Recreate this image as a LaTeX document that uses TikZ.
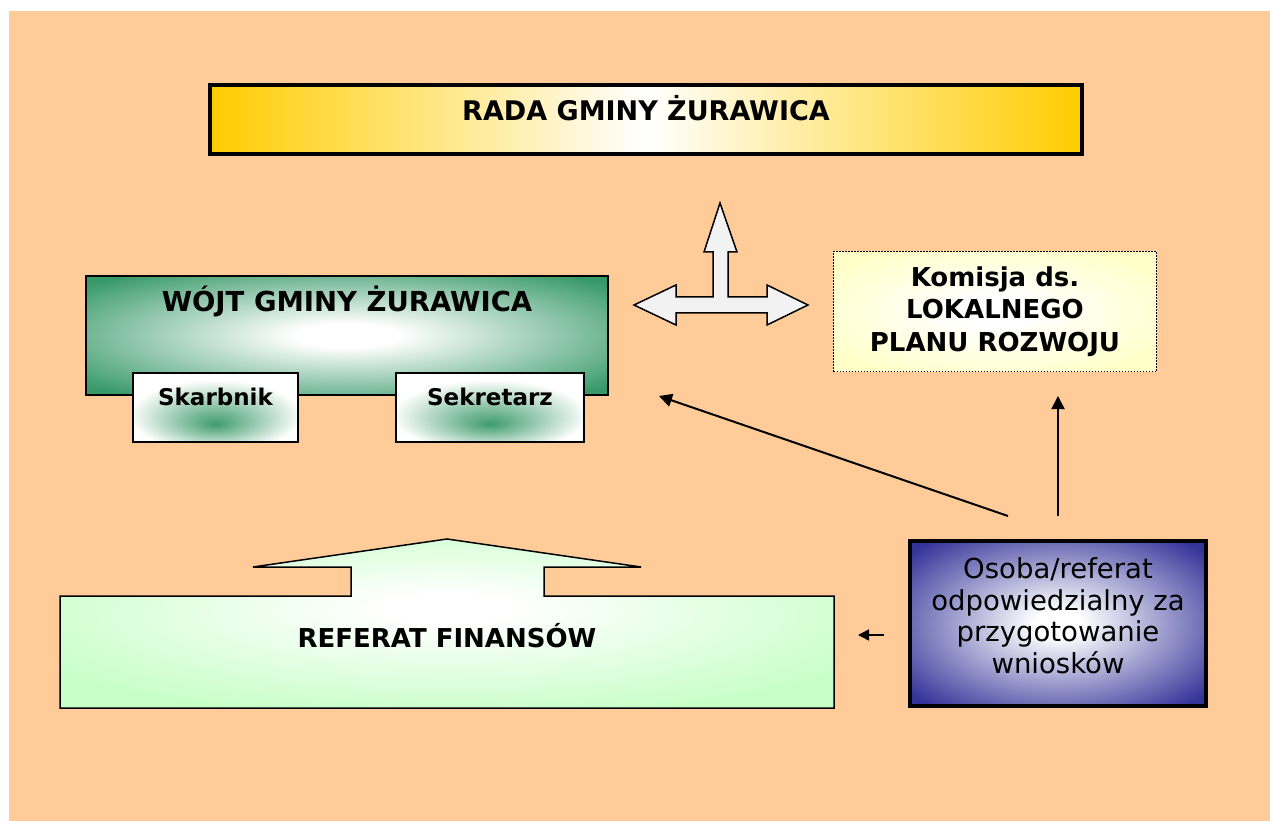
\documentclass[tikz,border=0pt]{standalone}
\usepackage{fontspec}
\setmainfont{DejaVu Sans}
\usetikzlibrary{arrows.meta}
\definecolor{bgorange}{HTML}{FFCC99}
\definecolor{goldc}{HTML}{FFCC00}
\definecolor{wgreen}{HTML}{379968}
\definecolor{subgreen}{HTML}{3F9C6C}
\definecolor{oblue}{HTML}{333399}
\definecolor{lgreen}{HTML}{C8FFC8}
\definecolor{lyellow}{HTML}{FFFFC8}
\definecolor{arrowgray}{HTML}{F2F2F2}
\pgfdeclareradialshading{wojtshade}{\pgfpoint{0bp}{0bp}}{color(0bp)=(white); color(5bp)=(white); color(33bp)=(wgreen); color(50bp)=(wgreen)}
\pgfdeclareradialshading{subshade}{\pgfpoint{0bp}{-12bp}}{color(0bp)=(subgreen); color(26bp)=(white); color(50bp)=(white)}
\pgfdeclareradialshading{komshade}{\pgfpoint{0bp}{0bp}}{color(0bp)=(white); color(6bp)=(white); color(30bp)=(lyellow); color(50bp)=(lyellow)}
\pgfdeclareradialshading{osobashade}{\pgfpoint{0bp}{0bp}}{color(0bp)=(white); color(4bp)=(white); color(33bp)=(oblue); color(50bp)=(oblue)}
\pgfdeclareradialshading{refshade}{\pgfpoint{0bp}{5bp}}{color(0bp)=(white); color(4bp)=(white); color(30bp)=(lgreen); color(50bp)=(lgreen)}
\begin{document}
\begin{tikzpicture}[x=1pt,y=-1pt,
  every node/.style={inner sep=0pt, outer sep=0pt},
  bigbox/.style={draw=black, rectangle, anchor=center},
  conn/.style={line width=2pt, -{Triangle[length=13pt,width=13pt]}},
  smallconn/.style={line width=1.6pt, -{Triangle[length=11pt,width=11pt]}},
]
\useasboundingbox (0,0) rectangle (1270,821);
\fill[bgorange] (9,11) rectangle (1271,822);

% Rada
\node[bigbox, line width=4pt, minimum width=872pt, minimum height=69pt,
  left color=goldc, right color=goldc, middle color=white,
  font=\bfseries\fontsize{27}{32}\selectfont, text height=19.7pt, text depth=16.7pt]
  (rada) at (646,119.5) {RADA GMINY ŻURAWICA};

% triple arrow
\draw[line width=1.5pt, fill=arrowgray, line join=miter]
  (720,203) -- (737,252) -- (728,252) -- (728,297) -- (767,297) -- (767,285)
  -- (808,305) -- (767,325) -- (767,313) -- (676,313) -- (676,325) -- (634,305)
  -- (676,285) -- (676,297) -- (713,297) -- (713,252) -- (704,252) -- cycle;

% Wojt
\node[bigbox, line width=2pt, minimum width=522pt, minimum height=119pt,
  shade, shading=wojtshade,
  font=\bfseries\fontsize{27.5}{32}\selectfont, text height=20pt, text depth=67pt]
  (wojt) at (347,335.5) {WÓJT GMINY ŻURAWICA};

\node[bigbox, line width=2pt, minimum width=165pt, minimum height=69pt,
  shade, shading=subshade,
  font=\bfseries\fontsize{23}{28}\selectfont, text height=16.8pt, text depth=20.8pt]
  (skarbnik) at (215.5,407.5) {Skarbnik};

\node[bigbox, line width=2pt, minimum width=188pt, minimum height=69pt,
  shade, shading=subshade,
  font=\bfseries\fontsize{23}{28}\selectfont, text height=16.8pt, text depth=20.8pt]
  (sekretarz) at (490,407.5) {Sekretarz};

% Komisja
\node[draw=black, dash pattern=on 1.3pt off 1.7pt, line width=1.3pt,
  minimum width=323pt, minimum height=120pt,
  shade, shading=komshade, align=center,
  font=\bfseries\fontsize{26}{32.5}\selectfont]
  (komisja) at (995,311.5) {Komisja ds.\\LOKALNEGO\\PLANU ROZWOJU};

% Osoba
\node[bigbox, line width=4pt, minimum width=296pt, minimum height=165pt,
  shade, shading=osobashade, align=center,
  font=\fontsize{27.5}{31.7}\selectfont, text depth=16pt]
  (osoba) at (1058,623.5) {Osoba/referat\\odpowiedzialny za\\przygotowanie\\wniosków};

% Referat finansow
\shadedraw[line width=1.5pt, shading=refshade, line join=miter]
  (60,596) -- (351,596) -- (351,567) -- (253,567) -- (447,539) -- (641,567)
  -- (544,567) -- (544,596) -- (834,596) -- (834,708) -- (60,708) -- cycle;
\node[font=\bfseries\fontsize{26}{31}\selectfont, text height=19pt, text depth=0pt]
  (referat) at (447,637.5) {REFERAT FINANSÓW};

% connectors
\coordinate (wojtin) at (659,396);
\coordinate (osobaoutA) at (1008,516);
\coordinate (komin) at (1058,396);
\coordinate (osobaoutB) at (1058,516);
\coordinate (refin) at (858,635);
\coordinate (osobaoutC) at (884,635);
\draw[conn] (osobaoutA) -- (wojtin);
\draw[conn] (osobaoutB) -- (komin);
\draw[smallconn] (osobaoutC) -- (refin);
\end{tikzpicture}
\end{document}
